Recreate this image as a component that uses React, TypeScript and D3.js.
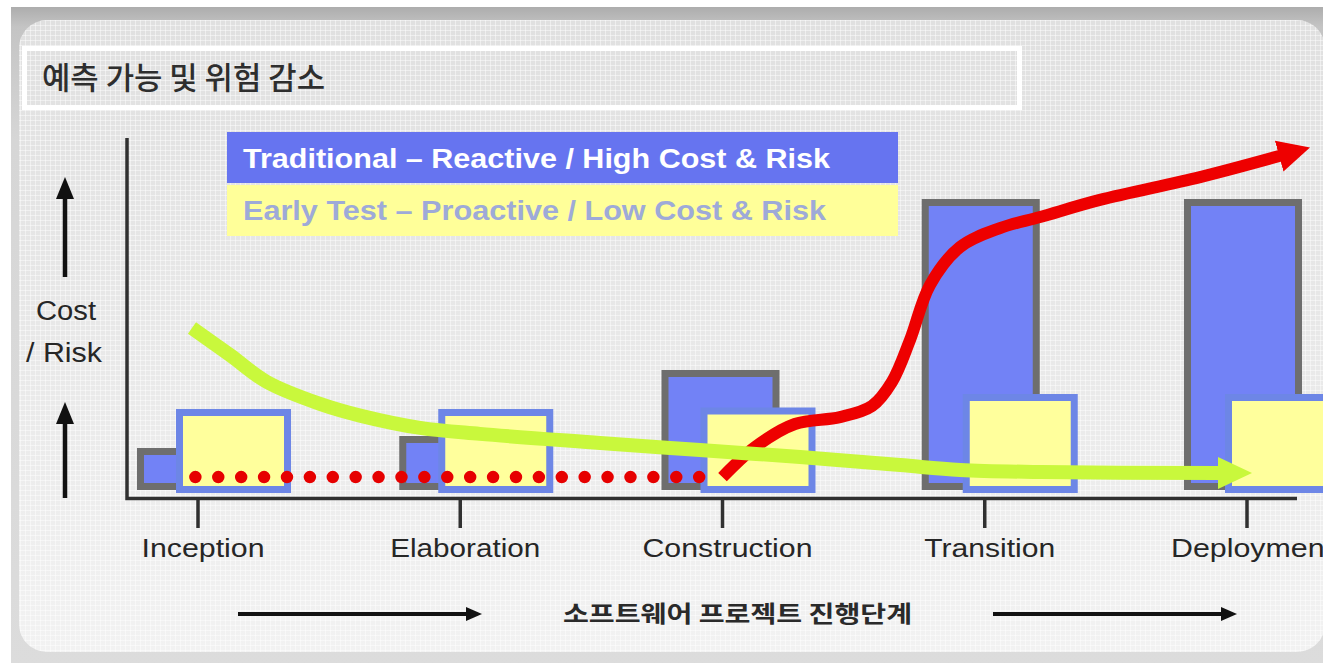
import React, { useRef, useEffect } from 'react'
import * as d3 from 'd3'

// phases along the x axis
const phases = ['Inception', 'Elaboration', 'Construction', 'Transition', 'Deployment']
// bar heights (relative cost / risk)
const traditional = [14, 18, 40, 97, 97]
const earlyTest = [27, 27, 27.5, 32, 32]
const legendLabels = [
  'Traditional – Reactive / High Cost & Risk',
  'Early Test – Proactive / Low Cost & Risk',
]
// trend curves: [phase position, value]
const redDotted: [number, number][] = [
  [-0.01, 4.3],
  [1.92, 4.3],
]
const redTrend: [number, number][] = [
  [2.0, 4.3],
  [2.124, 14.3],
  [2.276, 22],
  [2.448, 24.3],
  [2.57, 28],
  [2.646, 36],
  [2.715, 50],
  [2.791, 68.3],
  [2.906, 81],
  [3.058, 87.3],
  [3.211, 91],
  [3.439, 96.7],
  [3.821, 104.3],
  [4.13, 111.5],
]
const greenTrend: [number, number][] = [
  [-0.023, 54],
  [0.122, 45],
  [0.263, 36],
  [0.465, 28.7],
  [0.618, 24.8],
  [0.847, 20.7],
  [1.075, 18.7],
  [1.533, 15.7],
  [1.914, 13.3],
  [2.296, 11],
  [2.677, 8.3],
  [2.906, 6.7],
  [3.211, 6],
  [3.897, 5.7],
]
const title = '예측 가능 및 위험 감소'
const xTitle = '소프트웨어 프로젝트 진행단계'
const yTitle = ['Cost', '/ Risk']

const W = 1323
const H = 663
const LATIN = "'Liberation Sans', Arial, sans-serif"
const KOREAN = "'Noto Sans CJK KR', 'Noto Sans', sans-serif"
const labelWidths = [123, 150, 170, 131, 162]

const App = () => {
  const svgRef = useRef<SVGSVGElement>(null)

  useEffect(() => {
    document.body.style.margin = '0'
    const svg = d3.select(svgRef.current)
    svg.selectAll('*').remove()

    const x = d3.scaleLinear().domain([0, 4]).range([198, 1247])
    const y = d3.scaleLinear().domain([0, 100]).range([490, 190])

    const defs = svg.append('defs')
    const bg = defs
      .append('linearGradient')
      .attr('id', 'panelFill')
      .attr('x1', 0)
      .attr('y1', 0)
      .attr('x2', 0)
      .attr('y2', 1)
    bg.append('stop').attr('offset', 0).attr('stop-color', '#e0e0e0')
    bg.append('stop').attr('offset', 0.55).attr('stop-color', '#e9e9e9')
    bg.append('stop').attr('offset', 1).attr('stop-color', '#f2f2f2')

    const frame = defs
      .append('linearGradient')
      .attr('id', 'frameFill')
      .attr('x1', 0)
      .attr('y1', 0)
      .attr('x2', 0)
      .attr('y2', 1)
    frame.append('stop').attr('offset', 0).attr('stop-color', '#adadad')
    frame.append('stop').attr('offset', 0.03).attr('stop-color', '#c4c4c4')
    frame.append('stop').attr('offset', 0.2).attr('stop-color', '#d6d6d6')
    frame.append('stop').attr('offset', 1).attr('stop-color', '#dcdcdc')

    const grid = defs
      .append('pattern')
      .attr('id', 'grid')
      .attr('width', 5)
      .attr('height', 5)
      .attr('patternUnits', 'userSpaceOnUse')
    grid
      .append('path')
      .attr('d', 'M0,0.5H5M0.5,0V5')
      .attr('stroke', '#ffffff')
      .attr('stroke-opacity', 0.45)
      .attr('stroke-width', 1)

    const arrow = (id: string, color: string, len: number, half: number) =>
      defs
        .append('marker')
        .attr('id', id)
        .attr('markerUnits', 'userSpaceOnUse')
        .attr('markerWidth', len + 4)
        .attr('markerHeight', half * 2 + 4)
        .attr('viewBox', `0 ${-half - 2} ${len + 4} ${half * 2 + 4}`)
        .attr('refX', 2)
        .attr('refY', 0)
        .attr('orient', 'auto')
        .append('path')
        .attr('d', `M0,${-half}L${len},0L0,${half}Z`)
        .attr('fill', color)
    arrow('redHead', '#ee0000', 32, 16)
    arrow('greenHead', '#c9f83c', 34, 16)
    arrow('blackHead', '#111111', 16, 7)
    arrow('blackUp', '#111111', 22, 9)

    // background frame + panel
    svg.append('rect').attr('width', W).attr('height', H).attr('fill', '#ffffff')
    svg
      .append('rect')
      .attr('x', 11)
      .attr('y', 7)
      .attr('width', W)
      .attr('height', H)
      .attr('fill', 'url(#frameFill)')
    svg
      .append('rect')
      .attr('x', 19)
      .attr('y', 20)
      .attr('width', 1306)
      .attr('height', 632)
      .attr('rx', 28)
      .attr('fill', 'url(#panelFill)')
    svg
      .append('rect')
      .attr('x', 19)
      .attr('y', 20)
      .attr('width', 1306)
      .attr('height', 632)
      .attr('rx', 28)
      .attr('fill', 'url(#grid)')

    // title box
    svg
      .append('rect')
      .attr('x', 24.5)
      .attr('y', 48.5)
      .attr('width', 995)
      .attr('height', 59)
      .attr('fill', 'none')
      .attr('stroke', '#ffffff')
      .attr('stroke-width', 5)
    svg
      .append('text')
      .attr('x', 42)
      .attr('y', 89)
      .attr('font-family', KOREAN)
      .attr('font-weight', 500)
      .attr('font-size', 31)
      .attr('fill', '#2e2e2e')
      .attr('textLength', 283)
      .attr('lengthAdjust', 'spacingAndGlyphs')
      .text(title)

    // legend
    const legendFill = ['#6674f0', '#ffff99']
    const legendText = ['#ffffff', '#9eaad8']
    const legendLen = [587, 583]
    legendLabels.forEach((l, i) => {
      svg
        .append('rect')
        .attr('x', 227)
        .attr('y', 132 + i * 53)
        .attr('width', 671)
        .attr('height', 51)
        .attr('fill', legendFill[i])
      svg
        .append('text')
        .attr('x', 243)
        .attr('y', 168 + i * 52)
        .attr('font-family', LATIN)
        .attr('font-weight', 'bold')
        .attr('font-size', 27)
        .attr('fill', legendText[i])
        .attr('textLength', legendLen[i])
        .attr('lengthAdjust', 'spacingAndGlyphs')
        .text(l)
    })

    // axes
    svg
      .append('path')
      .attr('d', `M127,138V${y(0) + 8.5}H1297`)
      .attr('fill', 'none')
      .attr('stroke', '#303030')
      .attr('stroke-width', 3.5)
    svg
      .append('g')
      .selectAll('line')
      .data(phases)
      .enter()
      .append('line')
      .attr('x1', (_, i) => x(i))
      .attr('x2', (_, i) => x(i))
      .attr('y1', y(0) + 8)
      .attr('y2', 528)
      .attr('stroke', '#303030')
      .attr('stroke-width', 3.5)
    svg
      .append('g')
      .selectAll('text')
      .data(phases)
      .enter()
      .append('text')
      .attr('x', (_, i) => x(i) + 5)
      .attr('y', 557)
      .attr('text-anchor', 'middle')
      .attr('font-family', LATIN)
      .attr('font-size', 26)
      .attr('fill', '#262626')
      .attr('textLength', (_, i) => labelWidths[i])
      .attr('lengthAdjust', 'spacingAndGlyphs')
      .text((d) => d)

    // bars: traditional (blue, gray border)
    const sw = 7
    svg
      .append('g')
      .selectAll('rect')
      .data(traditional)
      .enter()
      .append('rect')
      .attr('x', (_, i) => x(i) - 61 - (i > 2 ? 2 : 0) + sw / 2)
      .attr('y', (d) => y(d) + sw / 2)
      .attr('width', 118 - sw)
      .attr('height', (d) => y(0) - y(d) - sw)
      .attr('fill', '#7282f6')
      .attr('stroke', '#6e6e6e')
      .attr('stroke-width', sw)

    // bars: early test (yellow, blue border)
    svg
      .append('g')
      .selectAll('rect')
      .data(earlyTest)
      .enter()
      .append('rect')
      .attr('x', (_, i) => x(i) - 22 + sw / 2)
      .attr('y', (d) => y(d) + sw / 2)
      .attr('width', 115 - sw)
      .attr('height', (d) => y(0) + 3 - y(d) - sw)
      .attr('fill', '#ffff9c')
      .attr('stroke', '#6d86e6')
      .attr('stroke-width', sw)

    const line = d3
      .line<[number, number]>()
      .x((d) => x(d[0]))
      .y((d) => y(d[1]))

    // dotted red (before construction)
    svg
      .append('path')
      .attr('d', line(redDotted))
      .attr('fill', 'none')
      .attr('stroke', '#e60000')
      .attr('stroke-width', 12.5)
      .attr('stroke-linecap', 'round')
      .attr('stroke-dasharray', '0 22.9')

    const curve = line.curve(d3.curveCatmullRom.alpha(0.5))

    svg
      .append('path')
      .attr('d', curve(redTrend))
      .attr('fill', 'none')
      .attr('stroke', '#ee0000')
      .attr('stroke-width', 12)
      .attr('marker-end', 'url(#redHead)')

    svg
      .append('path')
      .attr('d', curve(greenTrend))
      .attr('fill', 'none')
      .attr('stroke', '#c9f83c')
      .attr('stroke-width', 14)
      .attr('marker-end', 'url(#greenHead)')

    // y title with arrows
    svg
      .append('g')
      .selectAll('line')
      .data([
        [277, 197],
        [498, 422],
      ])
      .enter()
      .append('line')
      .attr('x1', 65)
      .attr('x2', 65)
      .attr('y1', (d) => d[0])
      .attr('y2', (d) => d[1])
      .attr('stroke', '#111111')
      .attr('stroke-width', 4.5)
      .attr('marker-end', 'url(#blackUp)')
    const yLens = [60, 76]
    yTitle.forEach((t, i) => {
      svg
        .append('text')
        .attr('x', 66 - i * 2)
        .attr('y', 320 + i * 42)
        .attr('text-anchor', 'middle')
        .attr('font-family', LATIN)
        .attr('font-size', 27)
        .attr('fill', '#262626')
        .attr('textLength', yLens[i])
        .attr('lengthAdjust', 'spacingAndGlyphs')
        .text(t)
    })

    // x title with arrows
    svg
      .append('g')
      .selectAll('line')
      .data([
        [238, 468],
        [993, 1223],
      ])
      .enter()
      .append('line')
      .attr('x1', (d) => d[0])
      .attr('x2', (d) => d[1])
      .attr('y1', 614)
      .attr('y2', 614)
      .attr('stroke', '#111111')
      .attr('stroke-width', 4)
      .attr('marker-end', 'url(#blackHead)')
    svg
      .append('text')
      .attr('x', 563)
      .attr('y', 622)
      .attr('font-family', KOREAN)
      .attr('font-weight', 'bold')
      .attr('font-size', 23)
      .attr('fill', '#2a2a2a')
      .attr('textLength', 349)
      .attr('lengthAdjust', 'spacingAndGlyphs')
      .text(xTitle)
  }, [])

  return (
    <svg
      ref={svgRef}
      width={W}
      height={H}
      style={{ display: 'block', position: 'absolute', left: 0, top: 0 }}
    />
  )
}

export default App
